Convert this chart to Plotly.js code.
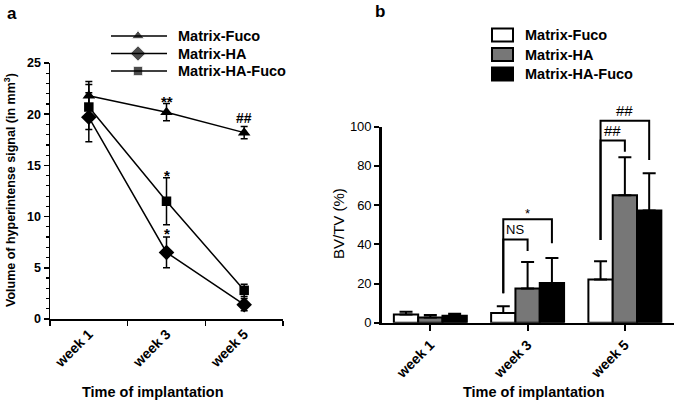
<!DOCTYPE html>
<html><head><meta charset="utf-8">
<script src="https://cdn.plot.ly/plotly-3.0.1.min.js"></script>
<style>html,body{margin:0;padding:0;background:#fff}#c{width:675px;height:404px}</style>
</head><body><div id="c"></div>
<script>
// ---------- data ----------
const weeks = ['week 1', 'week 3', 'week 5'];
const seriesNames = ['Matrix-Fuco', 'Matrix-HA', 'Matrix-HA-Fuco'];
// panel a: volume of hyperintense signal (mm3), mean and SD
const volFuco = [21.8, 20.2, 18.2];
const volFucoErr = [1.4, 0.85, 0.6];
const volHA = [19.7, 6.5, 1.4];
const volHAErr = [2.4, 1.5, 0.6];
const volHAFuco = [20.7, 11.5, 2.8];
const volHAFucoErr = [2.2, 2.3, 0.6];
// panel b: BV/TV (%), mean and SD (upper)
const bvFuco = [4.2, 5.0, 22.0];
const bvFucoErr = [1.4, 3.4, 9.4];
const bvHA = [2.6, 17.5, 65.0];
const bvHAErr = [1.3, 13.5, 19.4];
const bvHAFuco = [3.5, 20.2, 57.3];
const bvHAFucoErr = [1.1, 12.8, 18.9];
// significance labels
const sigA = [ // [category index, y value, text]
  [1, 21.5, '**'], [2, 19.6, '##'], [1, 14.3, '*'], [1, 8.6, '*']
];
const bracketsB = [ // category, left bar, right bar, top y, drop y, base y, label
  [1, 0, 1, 42.5, 36.6, 15.0, 'NS'],
  [1, 0, 2, 52.8, 40.5, 15.0, '*'],
  [2, 0, 1, 92.9, 87.2, 42.2, '##'],
  [2, 0, 2, 103.0, 83.0, 42.2, '##']
];

// ---------- geometry ----------
const W = 675, H = 404;
const L = {x0: 50, x1: 283, y0: 319, y1: 63};
const R = {x0: 381.7, x1: 673.5, y0: 322.7, y1: 126.7};
const BARGAP = 0.25;
const barW = (1 - BARGAP) / 3;
const rx = v => R.x0 + (v + 0.5) / 3 * (R.x1 - R.x0);
const ry = v => R.y0 - v / 100 * (R.y0 - R.y1);

const FONT = 'Liberation Sans, Arial, sans-serif';
const bold = (s) => ({family: FONT, size: s, color: '#000', weight: 700});
const reg = (s) => ({family: FONT, size: s, color: '#000'});

const errA = (a) => ({type: 'data', array: a, visible: true, color: '#000', thickness: 1.5, width: 3.5});
const errB = (a) => ({type: 'data', array: a, arrayminus: a.map(() => 0), symmetric: false, visible: true, color: '#000', thickness: 2, width: 6.5});

const symbols = ['triangle-up', 'diamond', 'square'];
const msize = [11, 12, 9.5];
const volVals = [volFuco, volHA, volHAFuco];
const volErrs = [volFucoErr, volHAErr, volHAFucoErr];
const bvVals = [bvFuco, bvHA, bvHAFuco];
const bvErrs = [bvFucoErr, bvHAErr, bvHAFucoErr];
const barColors = ['#ffffff', '#777777', '#000000'];

const traces = [];
for (let i = 0; i < 3; i++) {
  traces.push({
    type: 'scatter', mode: 'lines+markers', x: weeks, y: volVals[i], name: seriesNames[i],
    xaxis: 'x', yaxis: 'y',
    line: {color: '#000', width: 1.5},
    marker: {symbol: symbols[i], size: msize[i], color: '#000'},
    error_y: errA(volErrs[i]), cliponaxis: false
  });
}
for (let i = 0; i < 3; i++) {
  traces.push({
    type: 'bar', x: weeks, y: bvVals[i], name: seriesNames[i],
    xaxis: 'x2', yaxis: 'y2',
    marker: {color: barColors[i], line: {color: '#000', width: 2}},
    error_y: errB(bvErrs[i])
  });
}

// legends (drawn in pixel overlay)
const legA = {x0: 111, x1: 167, xm: 138, xt: 176, ys: [36, 53.5, 71]};
const legB = {x0: 492, x1: 513, xt: 523, ys: [35, 54.5, 74]};
traces.push({
  type: 'scatter', mode: 'markers', x: legA.ys.map(() => legA.xm), y: legA.ys,
  xaxis: 'x3', yaxis: 'y3', hoverinfo: 'skip',
  marker: {symbol: symbols, size: msize, color: '#000'}
});

const shapes = [];
const annotations = [];
legA.ys.forEach((y, i) => {
  shapes.push({type: 'line', xref: 'x3', yref: 'y3', x0: legA.x0, x1: legA.x1, y0: y, y1: y, line: {color: '#000', width: 1.5}});
  annotations.push({xref: 'x3', yref: 'y3', x: legA.xt, y: y, text: seriesNames[i], showarrow: false, xanchor: 'left', yanchor: 'middle', font: bold(14.5)});
});
legB.ys.forEach((y, i) => {
  shapes.push({type: 'rect', xref: 'x3', yref: 'y3', x0: legB.x0, x1: legB.x1, y0: y - 6.5, y1: y + 6.5, fillcolor: barColors[i], line: {color: '#000', width: 2}});
  annotations.push({xref: 'x3', yref: 'y3', x: legB.xt, y: y, text: seriesNames[i], showarrow: false, xanchor: 'left', yanchor: 'middle', font: bold(14.5)});
});

// brackets panel b
bracketsB.forEach(([c, a, b, top, drop, base, lab]) => {
  const xa = rx(c + (a - 1) * barW), xb = rx(c + (b - 1) * barW);
  shapes.push({type: 'path', xref: 'x3', yref: 'y3',
    path: `M${xa},${ry(base)} L${xa},${ry(top)} L${xb},${ry(top)} L${xb},${ry(drop)}`,
    line: {color: '#000', width: 2}});
  annotations.push({xref: 'x3', yref: 'y3', x: (xa + xb) / 2, y: ry(top), text: lab, showarrow: false,
    xanchor: 'center', yanchor: 'bottom', yshift: lab === '*' ? -4 : 0, font: reg(lab === '##' ? 15 : 13)});
});

// significance panel a
sigA.forEach(([c, y, t]) => {
  annotations.push({xref: 'x', yref: 'y', x: weeks[c], y: y, text: t, showarrow: false, xanchor: 'center', yanchor: 'middle', yshift: t === '##' ? 0 : -3, font: bold(t === '##' ? 14 : 15)});
});

// titles
annotations.push({xref: 'x3', yref: 'y3', x: 12, y: 13, text: 'a', showarrow: false, font: bold(17)});
annotations.push({xref: 'x3', yref: 'y3', x: 380, y: 11, text: 'b', showarrow: false, font: bold(17)});
annotations.push({xref: 'x3', yref: 'y3', x: 10, y: 190, text: 'Volume of hyperintense signal (in mm<sup>3</sup>)', textangle: -90, showarrow: false, font: bold(12.5)});
annotations.push({xref: 'x3', yref: 'y3', x: 153, y: 392, text: 'Time of implantation', showarrow: false, font: bold(14.5)});
annotations.push({xref: 'x3', yref: 'y3', x: 534, y: 392, text: 'Time of implantation', showarrow: false, font: bold(14.5)});
annotations.push({xref: 'x3', yref: 'y3', x: 338, y: 224, text: 'BV/TV (%)', textangle: -90, showarrow: false, font: reg(15)});

const layout = {
  width: W, height: H, margin: {l: 0, r: 0, t: 0, b: 0},
  paper_bgcolor: '#fff', plot_bgcolor: 'rgba(0,0,0,0)', showlegend: false,
  barmode: 'group', bargap: BARGAP, bargroupgap: 0,
  xaxis: {domain: [L.x0 / W, L.x1 / W], type: 'category', range: [-0.5, 2.5], showline: true, linecolor: '#000', linewidth: 1.5,
    ticks: 'outside', tickson: 'boundaries', ticklen: 5, tickwidth: 1.5, tickcolor: '#000', tickangle: -45,
    tickfont: bold(14), showgrid: false, zeroline: false, fixedrange: true},
  yaxis: {domain: [(H - L.y0) / H, (H - L.y1) / H], range: [0, 25], dtick: 5, showline: true, linecolor: '#000', linewidth: 1.5,
    ticks: 'outside', ticklen: 5, tickwidth: 1.5, tickcolor: '#000', tickfont: bold(12.5), showgrid: false, zeroline: false,
    minor: {dtick: 1, ticks: 'outside', ticklen: 3, tickwidth: 1.2, tickcolor: '#000', showgrid: false}, fixedrange: true},
  xaxis2: {domain: [R.x0 / W, R.x1 / W], anchor: 'y2', type: 'category', range: [-0.5, 2.5], showline: true, linecolor: '#000', linewidth: 2.5,
    ticks: 'outside', ticklen: 6, tickwidth: 2, tickcolor: '#000', tickangle: -45, tickfont: bold(14),
    showgrid: false, zeroline: false, fixedrange: true},
  yaxis2: {domain: [(H - R.y0) / H, (H - R.y1) / H], anchor: 'x2', range: [0, 100], dtick: 20, showline: true, linecolor: '#000', linewidth: 2.5,
    ticks: 'outside', ticklen: 5, tickwidth: 2, tickcolor: '#000', tickfont: reg(13), showgrid: false, zeroline: false, fixedrange: true},
  xaxis3: {domain: [0, 1], anchor: 'y3', range: [0, W], visible: false, fixedrange: true},
  yaxis3: {domain: [0, 1], anchor: 'x3', range: [H, 0], visible: false, fixedrange: true},
  shapes: shapes, annotations: annotations
};
Plotly.newPlot('c', traces, layout, {displayModeBar: false, staticPlot: true});
</script></body></html>
